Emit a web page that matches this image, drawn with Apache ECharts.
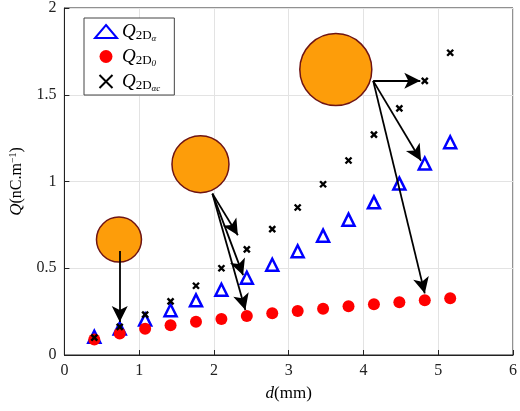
<!DOCTYPE html>
<html><head><meta charset="utf-8">
<script src="https://cdn.jsdelivr.net/npm/echarts@6/dist/echarts.min.js"></script>
<style>html,body{margin:0;background:#fff}#c{width:520px;height:411px}</style>
</head><body><div id="c"></div>
<script>
var dVals=[0.4,0.74,1.08,1.42,1.76,2.1,2.44,2.78,3.12,3.46,3.8,4.14,4.48,4.82,5.16];
var qAlpha=[0.105,0.153,0.204,0.258,0.315,0.376,0.445,0.52,0.598,0.688,0.78,0.88,0.988,1.104,1.226];
var q0=[0.09,0.124,0.151,0.172,0.191,0.208,0.225,0.24,0.254,0.267,0.281,0.292,0.304,0.315,0.327];
var qAlphaC=[0.10,0.162,0.233,0.309,0.399,0.50,0.609,0.726,0.85,0.984,1.121,1.27,1.421,1.58,1.742];
// circles: [x, y, size]
var balls=[[0.73,0.665,45],[1.82,1.10,57],[3.63,1.645,72]];
// arrows: [x0,y0,x1,y1]
var arrows=[[0.74,0.60,0.74,0.19],[1.98,0.93,2.32,0.69],[1.98,0.93,2.39,0.46],[1.98,0.93,2.42,0.26],
  [4.13,1.58,4.76,1.58],[4.13,1.58,4.77,1.12],[4.13,1.58,4.82,0.355]];

function pairs(ys){return dVals.map(function(x,i){return [x,ys[i]];});}
var font='Liberation Serif';
var chart=echarts.init(document.getElementById('c'));
var rich={q:{fontFamily:font,fontStyle:'italic',fontSize:19,color:'#000'},
  s:{fontFamily:font,fontSize:13,color:'#000',padding:[8,0,0,0]},
  a:{fontFamily:font,fontStyle:'italic',fontSize:9,color:'#000',padding:[14,0,0,0]}};
var legNames={'A':'{q|Q}{s|2D}{a|α}','B':'{q|Q}{s|2D}{a|0}','C':'{q|Q}{s|2D}{a|αc}'};
chart.setOption({
  animation:false,
  grid:{left:62,right:4,top:6,bottom:56,show:true,borderColor:'#222',borderWidth:1},
  legend:{left:84,top:18,orient:'vertical',itemGap:4,itemWidth:22,itemHeight:13,
    borderColor:'#444',borderWidth:1,padding:[4,14,2,10],backgroundColor:'#fff',
    data:['A','B','C'],formatter:function(n){return legNames[n];},textStyle:{rich:rich}},
  xAxis:{type:'value',min:0,max:6,interval:1,
    axisLine:{lineStyle:{color:'#222'}},axisTick:{inside:true,lineStyle:{color:'#222'}},
    splitLine:{lineStyle:{color:'#e3e3e3'}},
    axisLabel:{fontFamily:font,fontSize:16,color:'#222'},
    name:'{i|d}(mm)',nameLocation:'middle',nameGap:30,
    nameTextStyle:{fontFamily:font,fontSize:17,color:'#000',rich:{i:{fontFamily:font,fontStyle:'italic',fontSize:17}}}},
  yAxis:{type:'value',min:0,max:2,interval:0.5,
    axisLine:{lineStyle:{color:'#222'}},axisTick:{inside:true,lineStyle:{color:'#222'}},
    splitLine:{lineStyle:{color:'#e3e3e3'}},
    axisLabel:{fontFamily:font,fontSize:16,color:'#222'},
    name:'{i|Q}(nC.m{u|−1})',nameLocation:'middle',nameGap:34,
    nameTextStyle:{fontFamily:font,fontSize:16,color:'#000',rich:{i:{fontFamily:font,fontStyle:'italic',fontSize:17},u:{fontFamily:font,fontSize:10,padding:[0,0,8,0]}}}},
  series:[
    {name:'balls',type:'scatter',data:balls.map(function(b){return [b[0],b[1]];}),
      symbolSize:function(v,p){return balls[p.dataIndex][2];},
      itemStyle:{color:'#fd9d0a',borderColor:'#6e1414',borderWidth:1.5,opacity:1},z:1,silent:true,
      markLine:{symbol:['none','arrow'],symbolSize:[12,16],silent:true,label:{show:false},
        lineStyle:{color:'#000',width:1.8,type:'solid'},
        data:arrows.map(function(a){return [{coord:[a[0],a[1]]},{coord:[a[2],a[3]]}];})}},
    {name:'A',type:'scatter',data:pairs(qAlpha),symbol:'triangle',symbolSize:12,
      itemStyle:{color:'#fff',borderColor:'#0000ff',borderWidth:2.5,opacity:1},z:3},
    {name:'B',type:'scatter',data:pairs(q0),symbol:'circle',symbolSize:12,
      itemStyle:{color:'#ff0000',opacity:1},z:3},
    {name:'C',type:'scatter',data:pairs(qAlphaC),symbol:'path://M0,0L1,1M1,0L0,1',symbolSize:6,
      itemStyle:{color:'#000',borderColor:'#000',borderWidth:2.4,opacity:1},z:4}
  ]
});
</script></body></html>
